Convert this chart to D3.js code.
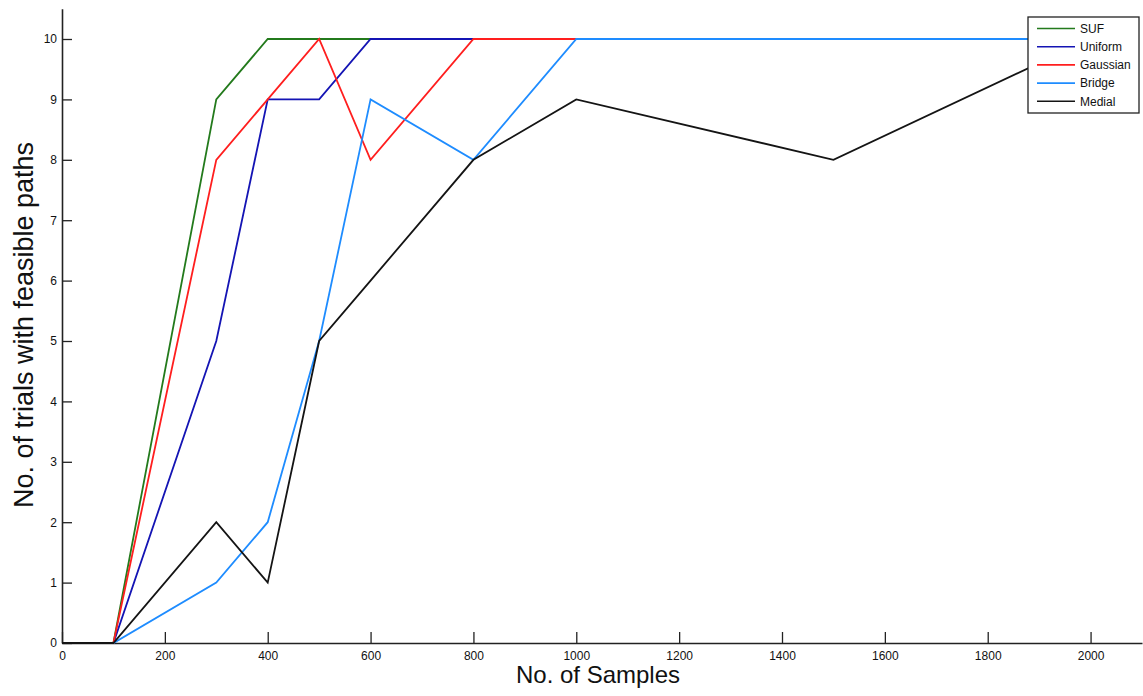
<!DOCTYPE html>
<html>
<head>
<meta charset="utf-8">
<script src="https://cdn.jsdelivr.net/npm/d3@7"></script>
<style>
  body { margin: 0; background: #fff; }
  svg { font-family: "Liberation Sans", Arial, sans-serif; }
</style>
</head>
<body>
<svg id="chart" width="1143" height="696"></svg>
<script>
// sample counts on the x axis
const samples = [0, 100, 300, 400, 500, 600, 800, 1000, 1500, 2000];

// no. of feasible trials (out of 10) for each sampler
const suf      = [0, 0, 9, 10, 10, 10, 10, 10, 10, 10];
const uniform  = [0, 0, 5, 9, 9, 10, 10, 10, 10, 10];
const gaussian = [0, 0, 8, 9, 10, 8, 10, 10, 10, 10];
const bridge   = [0, 0, 1, 2, 5, 9, 8, 10, 10, 10];
const medial   = [0, 0, 2, 1, 5, 6, 8, 9, 8, 10];

const seriesNames = ['SUF', 'Uniform', 'Gaussian', 'Bridge', 'Medial'];
const seriesColors = ['#237a1c', '#1414b4', '#ff1e1e', '#1e8cff', '#141414'];
const seriesValues = [suf, uniform, gaussian, bridge, medial];

const xTicks = d3.range(0, 2001, 200);
const yTicks = d3.range(0, 11, 1);

const svg = d3.select('#chart');

const x = d3.scaleLinear().domain([0, 2100]).range([62, 1142]);
// y(10) lands on a whole pixel so the stacked 10-lines stay crisp
const y = d3.scaleLinear().domain([0, 10.5]).range([643, 8.8]);

// axes -- matlab style, ticks pointing inwards, no box
const xAxis = d3.axisBottom(x)
  .tickValues(xTicks)
  .tickFormat(d3.format('d'))
  .tickSizeInner(-11)
  .tickSizeOuter(0)
  .tickPadding(8);
const yAxis = d3.axisLeft(y)
  .tickValues(yTicks)
  .tickFormat(d3.format('d'))
  .tickSizeInner(-10)
  .tickSizeOuter(0)
  .tickPadding(5);

const gx = svg.append('g')
  .attr('transform', 'translate(0,' + y(0) + ')')
  .call(xAxis);
const gy = svg.append('g')
  .attr('transform', 'translate(' + x(0) + ',0)')
  .call(yAxis);

[gx, gy].forEach(g => {
  g.select('.domain').attr('stroke', '#222').attr('stroke-width', 1.6);
  g.selectAll('.tick line').attr('stroke', '#222').attr('stroke-width', 1.3);
  g.selectAll('.tick text')
    .attr('fill', '#111')
    .style('font-size', '12px')
    .style('font-family', '"Liberation Sans", Arial, sans-serif');
});

// the lines
const line = d3.line()
  .x((d, i) => x(samples[i]))
  .y(d => y(d));

svg.append('g').selectAll('path')
  .data(seriesValues)
  .enter()
  .append('path')
  .attr('d', line)
  .attr('fill', 'none')
  .attr('stroke', (d, i) => seriesColors[i])
  .attr('stroke-width', 1.8)
  .attr('stroke-linejoin', 'miter');

// axis labels
svg.append('text')
  .attr('x', 598)
  .attr('y', 683)
  .attr('text-anchor', 'middle')
  .style('font-size', '24px')
  .attr('fill', '#111')
  .text('No. of Samples');

svg.append('text')
  .attr('transform', 'translate(33,' + 325 + ') rotate(-90)')
  .attr('text-anchor', 'middle')
  .style('font-size', '27px')
  .attr('fill', '#111')
  .text('No. of trials with feasible paths');

// legend
const legend = svg.append('g').attr('transform', 'translate(1028,17)');
legend.append('rect')
  .attr('width', 111)
  .attr('height', 96)
  .attr('fill', '#fff')
  .attr('stroke', '#222')
  .attr('stroke-width', 1.3);

const item = legend.selectAll('g.item')
  .data(seriesNames)
  .enter()
  .append('g')
  .attr('class', 'item')
  .attr('transform', (d, i) => 'translate(0,' + (11.5 + i * 18.2) + ')');
item.append('line')
  .attr('x1', 9).attr('x2', 47)
  .attr('stroke', (d, i) => seriesColors[i])
  .attr('stroke-width', 1.6);
item.append('text')
  .attr('x', 52)
  .attr('dy', '0.36em')
  .style('font-size', '12px')
  .attr('fill', '#111')
  .text(d => d);
</script>
</body>
</html>
